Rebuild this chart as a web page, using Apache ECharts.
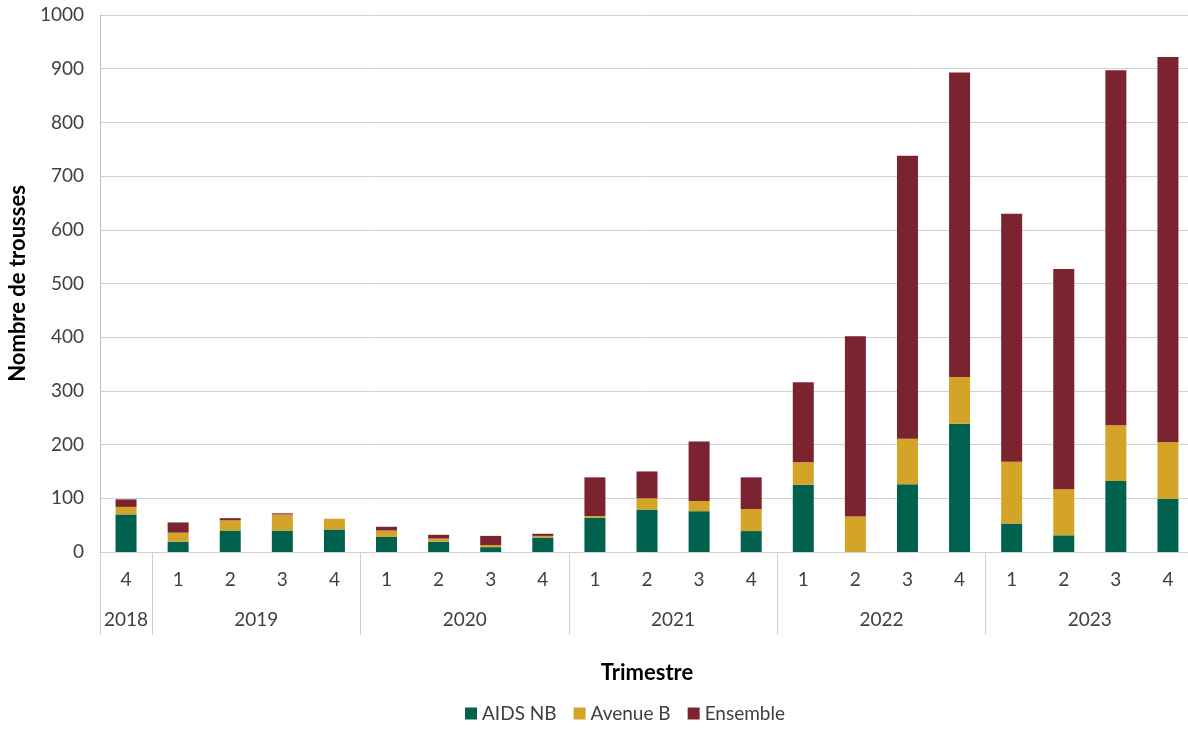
<!DOCTYPE html>
<html>
<head>
<meta charset="utf-8">
<script src="https://cdn.jsdelivr.net/npm/echarts@6/dist/echarts.min.js"></script>
<style>
  html, body { margin: 0; padding: 0; background: #fff; }
  #chart { width: 1188px; height: 729px; }
</style>
</head>
<body>
<div id="chart"></div>
<script>
var quarters = ['4', '1', '2', '3', '4', '1', '2', '3', '4', '1', '2', '3', '4', '1', '2', '3', '4', '1', '2', '3', '4'];
var years = ['2018', '2019', '2020', '2021', '2022', '2023'];
var quartersPerYear = [1, 4, 4, 4, 4, 4];

var aidsNB   = [70, 19, 40, 40, 42, 28, 19, 9, 27, 64, 79, 76, 39, 125, 0, 126, 239, 53, 31, 132, 99];
var avenueB  = [14, 17, 19, 30, 20, 12, 6, 4, 3, 3, 21, 19, 41, 42, 66, 85, 87, 115, 86, 104, 106];
var ensemble = [14, 19, 4, 2, 0, 7, 7, 17, 4, 72, 50, 111, 59, 149, 336, 527, 567, 462, 410, 661, 717];

var colors = ['#00614f', '#d4a428', '#7b2430'];
var font = 'Lato, sans-serif';

// year boundaries and centres, from the quarter counts
var bounds = [0];
var centres = [];
quartersPerYear.forEach(function(n, i) {
  centres.push(bounds[i] + n / 2);
  bounds.push(bounds[i] + n);
});

var myChart = echarts.init(document.getElementById('chart'));

function bar(name, data, color) {
  return {
    name: name,
    type: 'bar',
    stack: 'total',
    data: data,
    barWidth: 21,
    itemStyle: { color: color },
    animation: false
  };
}

myChart.setOption({
  textStyle: { fontFamily: font },
  grid: { left: 100, right: -6, top: 15, bottom: 177, outerBoundsMode: 'none', containLabel: false },
  legend: {
    bottom: 1,
    left: 460,
    icon: 'rect',
    itemWidth: 12,
    itemHeight: 12,
    itemGap: 17,
    textStyle: { fontSize: 19, color: '#404040', fontFamily: font },
    data: ['AIDS NB', 'Avenue B', 'Ensemble']
  },
  xAxis: [{
    type: 'category',
    data: quarters,
    name: 'Trimestre',
    nameLocation: 'middle',
    nameGap: 110,
    nameTextStyle: { fontSize: 22, fontWeight: 'bold', color: '#000', fontFamily: font },
    axisLine: { lineStyle: { color: '#d0d0d0' } },
    axisTick: { show: false },
    axisLabel: { interval: 0, margin: 18, fontSize: 19, color: '#404040' }
  }, {
    type: 'value',
    min: 0,
    max: quarters.length,
    position: 'bottom',
    axisLine: { show: false },
    splitLine: { show: false },
    axisTick: {
      show: true,
      customValues: bounds,
      length: 83,
      lineStyle: { color: '#d0d0d0' }
    },
    axisLabel: {
      customValues: centres,
      margin: 58,
      fontSize: 19,
      color: '#404040',
      formatter: function(v) {
        var i = centres.indexOf(v);
        return i >= 0 ? years[i] : '';
      }
    }
  }],
  yAxis: {
    type: 'value',
    min: 0,
    max: 1000,
    interval: 100,
    name: 'Nombre de trousses',
    nameLocation: 'middle',
    nameGap: 70,
    nameTextStyle: { fontSize: 22, fontWeight: 'bold', color: '#000', fontFamily: font },
    axisLine: { show: true, lineStyle: { color: '#bfbfbf' } },
    axisTick: { show: false },
    axisLabel: {
      margin: 16,
      fontSize: 19,
      color: '#404040',
      formatter: function(v) { return String(v); }
    },
    splitLine: { lineStyle: { color: '#d0d0d0' } }
  },
  series: [
    bar('AIDS NB', aidsNB, colors[0]),
    bar('Avenue B', avenueB, colors[1]),
    bar('Ensemble', ensemble, colors[2])
  ]
});
</script>
</body>
</html>
